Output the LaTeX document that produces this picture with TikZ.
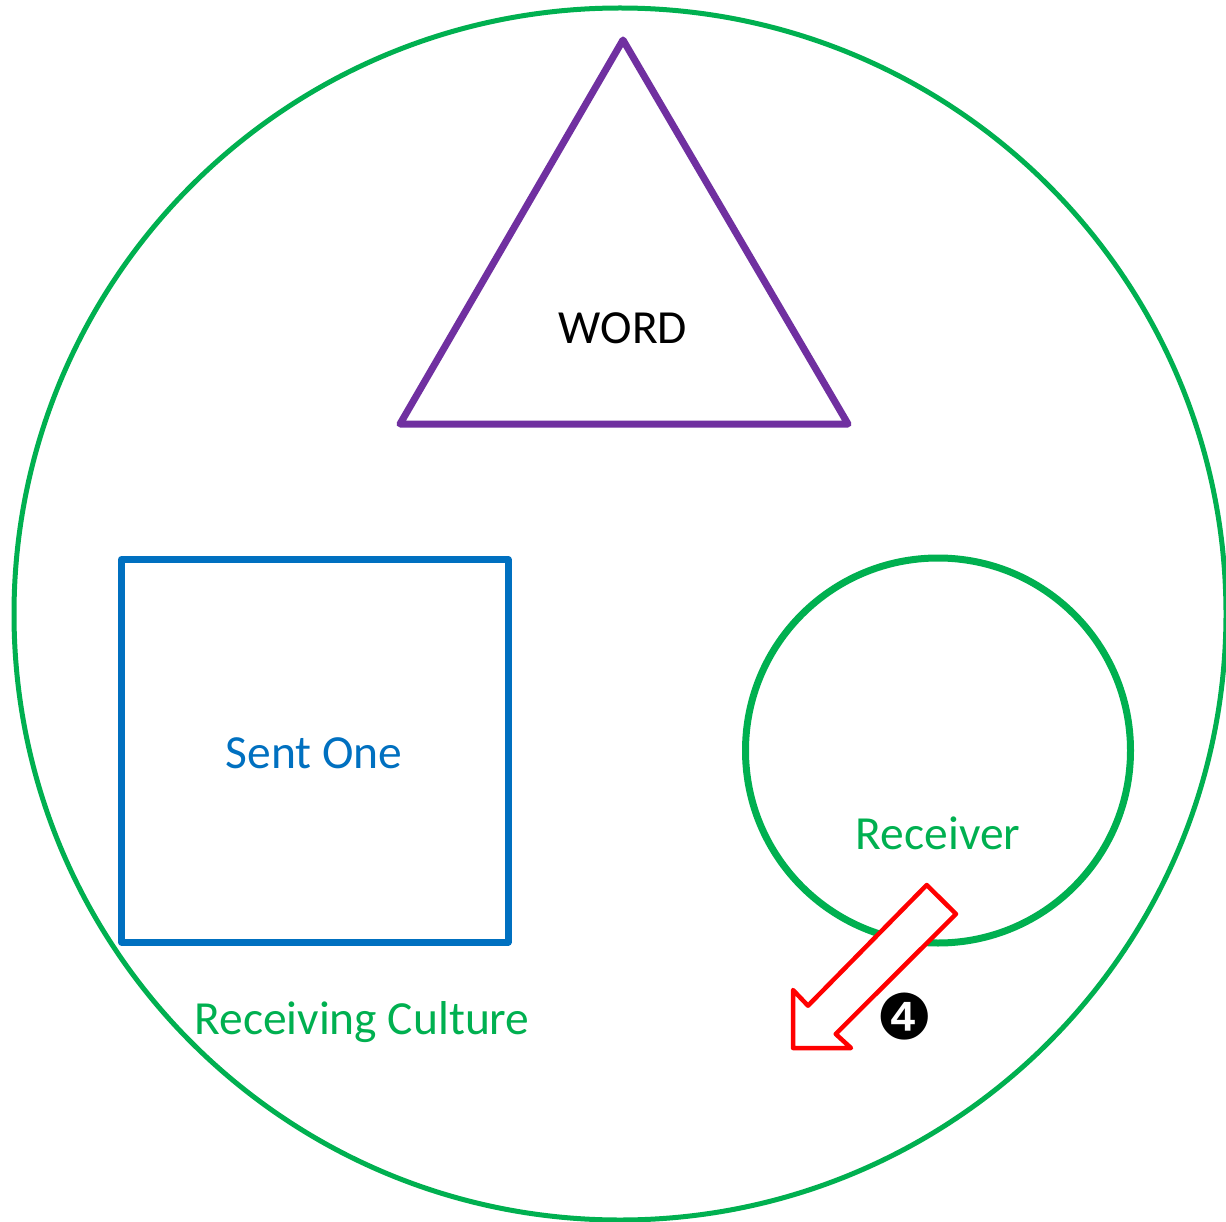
\documentclass[tikz,border=0pt]{standalone}
\usepackage{fontspec}
\setmainfont{Carlito}
\newfontfamily\dejavu{DejaVu Sans}
\definecolor{cgreen}{HTML}{00B050}
\definecolor{cpurple}{HTML}{7030A0}
\definecolor{cblue}{HTML}{0070C0}
\definecolor{cred}{HTML}{FF0000}
\tikzset{
  lbl/.style={anchor=base, inner sep=0pt, font=\fontsize{47.5}{56}\selectfont},
  shp/.style={line width=7pt, line join=round},
}
\begin{document}
\begin{tikzpicture}[x=1pt,y=-1pt]
\useasboundingbox (0,0) rectangle (1226,1222);
\fill[white] (0,0) rectangle (1226,1222);
% outer circle
\draw[cgreen, line width=5pt] (620,614) circle[radius=606];
% triangle
\coordinate (tA) at (623,40);
\coordinate (tB) at (400,424);
\coordinate (tC) at (848,424);
\draw[shp, cpurple] (tA) -- (tB) -- (tC) -- cycle;
\node[lbl, text=black] (word) at (623,344) {WORD};
% square
\draw[shp, cblue] (121.5,559.5) rectangle (508,942);
\node[lbl, text=cblue] (sent) at (314,768) {Sent One};
% receiver circle
\draw[cgreen, line width=7pt] (938,750.5) circle[radius=192.5];
\node[lbl, text=cgreen] (recv) at (938,849) {Receiver};
\node[lbl, text=cgreen] (culture) at (362,1034) {Receiving Culture};
% arrow
\draw[cred, fill=white, line width=4.5pt, line join=round]
  (926.7,885) -- (956,914) -- (835.7,1034) -- (851,1048) -- (793,1048)
  -- (793,990) -- (808,1005.7) -- cycle;
\node[inner sep=0pt, font=\dejavu\fontsize{63}{70}\selectfont] (num) at (905,1017) {❹};
\end{tikzpicture}
\end{document}
